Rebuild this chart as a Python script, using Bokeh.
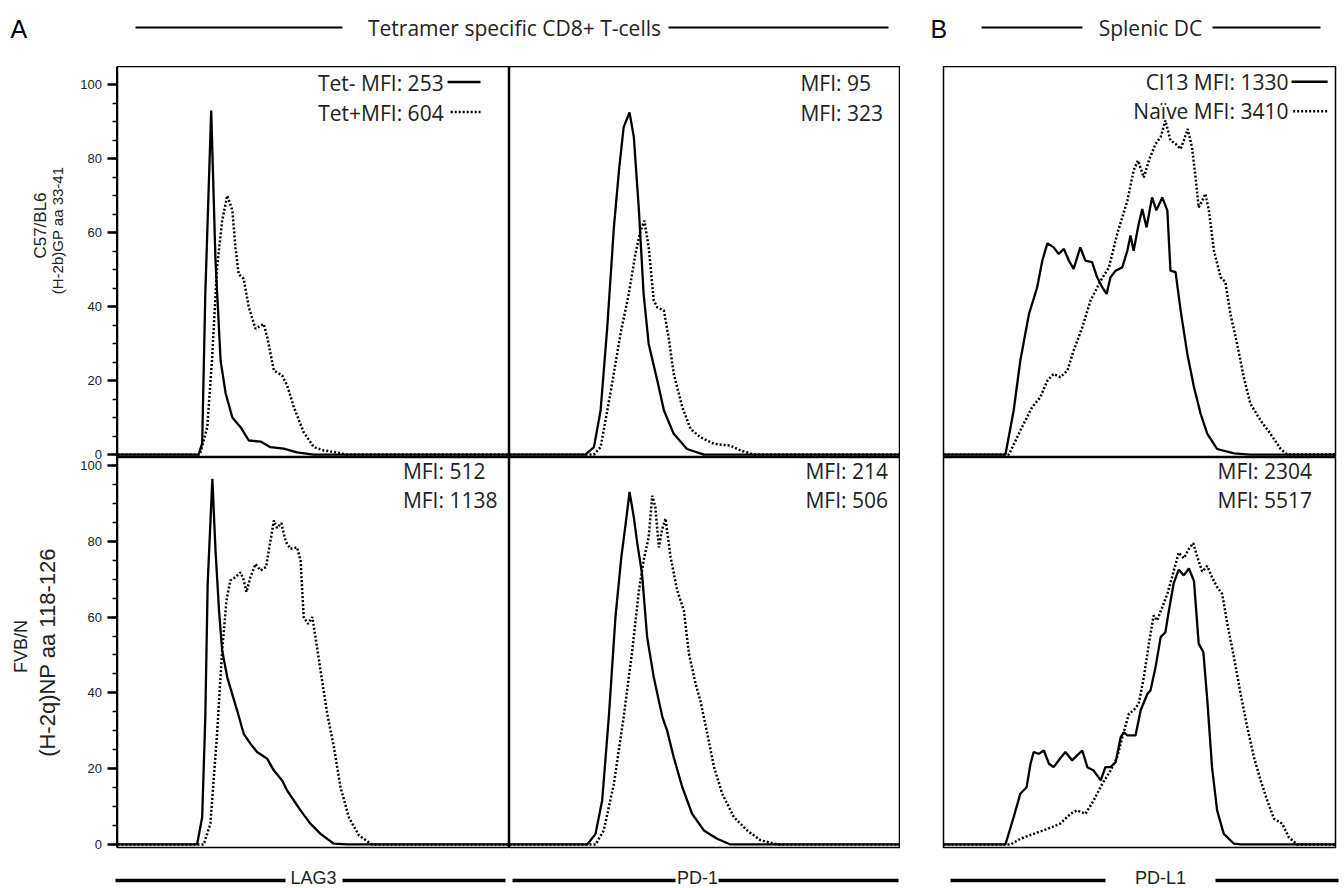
from bokeh.plotting import figure
from bokeh.layouts import row, column
from bokeh.models import Range1d, FixedTicker, LinearAxis
from bokeh.core.properties import value
from bokeh.embed import file_html
from bokeh.resources import INLINE
import numpy as np

# ---------------- data (x: channel position 0-100 % of axis, y: % of max) ----------------
# Tetramer specific CD8+ T-cells, C57/BL6, LAG3
lag3_b6_neg_x = [0, 20.7, 21.6, 22.4, 23.9, 25.0, 26.3, 27.6, 29.3, 31.4, 33.5, 36.5, 39.0, 42.4, 45.8, 50.0, 100]
lag3_b6_neg_y = [0, 0, 3.0, 43.5, 93, 52.4, 25.4, 16.5, 10, 7.4, 3.8, 3.5, 2, 1.6, 0.6, 0, 0]
lag3_b6_pos_x = [0, 21.0, 22.9, 24.1, 25.4, 26.7, 28.0, 29.3, 30.1, 30.9, 32.2, 33.5, 35.2, 37.3, 38.2, 39.9,
                 42.0, 43.3, 45.0, 47.5, 50.1, 52.6, 56.0, 58.2, 100]
lag3_b6_pos_y = [0, 0, 7.4, 25.4, 50.6, 63.2, 70, 66, 56, 48.8, 47.5, 39.8, 34, 35.3, 31.7, 22.7,
                 21.4, 18.6, 12.8, 6, 2, 1.1, 0.6, 0, 0]
# C57/BL6, PD-1
pd1_b6_neg_x = [0, 19.4, 21.6, 23.3, 25.0, 26.7, 28.0, 29.2, 30.7, 31.8, 33.1, 34.3, 35.6, 37.8, 39.5, 42.0, 45.4, 49.7, 100]
pd1_b6_neg_y = [0, 0, 2, 11.9, 34.4, 61.4, 76.8, 88.5, 92.5, 85.8, 66, 43.4, 29.9, 20, 11.9, 5.6, 1.5, 0, 0]
pd1_b6_pos_x = [0, 21.6, 23.3, 25.8, 28.4, 30.5, 32.2, 33.5, 34.5, 35.6, 36.9, 37.8, 39.5, 40.7, 42.0, 44.2,
                46.3, 48.8, 52.3, 56.5, 59.1, 62.5, 100]
pd1_b6_pos_y = [0, 0, 2, 16.5, 32.7, 43.4, 54.2, 60.5, 63.2, 56, 41.6, 39.8, 38.9, 31.7, 21.8, 12.8,
                6.9, 4.7, 2.9, 2.4, 1.1, 0, 0]
# Splenic DC, C57/BL6, PD-L1 (Cl13 solid, Naive dotted)
pdl1_b6_cl13_x = [0, 15.8, 17.9, 19.6, 21.8, 23.9, 25.2, 26.5, 28.1, 29.4, 30.7, 32.0, 33.2, 34.9, 36.2, 37.9,
                  39.2, 40.5, 41.6, 42.6, 43.9, 45.6, 46.9, 47.7, 48.5, 49.8, 50.7, 51.8, 53.2, 54.3, 55.8,
                  57.1, 57.9, 59.2, 60.5, 62.2, 63.9, 65.6, 67.3, 69.8, 74.1, 78.3, 100]
pdl1_b6_cl13_y = [0, 0, 11.9, 25.4, 38, 45.2, 52.4, 57.1, 56, 54.2, 55.6, 52.4, 50.2, 56, 52.4, 52,
                  47.9, 45.2, 43.4, 47.9, 49.7, 50.6, 55.1, 59.2, 55.1, 62.3, 66.4, 61.4, 69.5, 66, 69.5,
                  66, 49.7, 49.3, 38.9, 27.2, 18.2, 11, 5.6, 1.5, 0.3, 0, 0]
pdl1_b6_naive_x = [0, 16.7, 19.6, 22.6, 24.7, 26.5, 28.1, 29.8, 31.6, 33.2, 35.4, 37.5, 40.1, 42.2, 44.3, 46.9,
                   48.5, 49.6, 51.1, 52.4, 54.1, 55.4, 56.6, 57.9, 59.2, 60.5, 61.3, 62.3, 63.4, 64.3, 65.1,
                   66.0, 66.8, 67.7, 69.0, 70.7, 71.9, 73.2, 74.9, 76.6, 78.3, 80.9, 83.4, 86.0, 87.7, 100]
pdl1_b6_naive_y = [0, 0, 6.5, 12.8, 15.5, 20, 21.8, 20.9, 22.7, 28.1, 34.4, 41.6, 47, 50.6, 59.6, 68.6,
                   76.8, 79.5, 74.9, 79.5, 84, 85.8, 90.3, 84.9, 84, 82.6, 84.9, 88, 83, 74.9, 66.8,
                   68.6, 70.5, 66, 55.1, 47.9, 46.6, 38, 29.9, 20.9, 13.7, 9.2, 5.6, 1.5, 0, 0]
# FVB/N, LAG3
lag3_fvb_neg_x = [0, 20.3, 21.6, 22.4, 23.0, 24.2, 25.0, 25.9, 26.7, 28.0, 30.5, 32.2, 33.9, 35.6, 38.2, 39.9,
                  42.0, 43.3, 45.0, 46.7, 49.2, 51.8, 55.2, 58.6, 100]
lag3_fvb_neg_y = [0, 0, 7.2, 33.6, 68.7, 96.5, 77.6, 61.7, 51.2, 44.1, 35.4, 29.2, 26.6, 24.4, 22.6, 19.5,
                  16.9, 14.2, 11.6, 9, 5.5, 2.8, 0.2, 0, 0]
lag3_fvb_pos_x = [0, 22.0, 23.7, 25.4, 26.7, 27.8, 28.8, 30.1, 31.4, 32.1, 32.9, 33.9, 35.2, 36.5, 37.9, 38.6,
                  39.9, 40.7, 41.8, 42.9, 44.1, 45.8, 46.7, 47.5, 48.6, 49.7, 50.5, 51.8, 53.5, 55.2, 56.9,
                  59.0, 61.6, 64.9, 100]
lag3_fvb_pos_y = [0, 0, 5.5, 29.2, 51.2, 64.4, 69.7, 70.5, 71.8, 70.1, 66.6, 70.5, 74, 72.3, 73.2, 77.6,
                  85.5, 83.5, 84.8, 80, 78, 78.4, 74.9, 60, 58.2, 60, 54.7, 45.9, 34.5, 25.7, 15.1,
                  7.2, 2.4, 0, 0]
# FVB/N, PD-1
pd1_fvb_neg_x = [0, 19.9, 22.0, 23.7, 25.4, 27.1, 28.6, 29.7, 30.7, 31.8, 32.7, 33.9, 35.2, 36.9, 39.1, 40.3,
                 42.0, 44.2, 46.7, 49.7, 53.1, 56.5, 100]
pd1_fvb_neg_y = [0, 0, 2.8, 11.6, 33.6, 60, 75.8, 84.5, 93, 86.3, 79.3, 71.4, 54.7, 44.1, 33.6, 30.1,
                 23, 15.1, 8.1, 3.7, 1.5, 0, 0]
pd1_fvb_pos_x = [0, 22.0, 24.1, 26.7, 29.2, 31.4, 33.1, 34.3, 35.6, 36.5, 37.3, 38.2, 39.0, 39.9, 41.2, 42.9,
                 44.6, 45.9, 47.6, 48.8, 50.6, 52.3, 54.4, 57.4, 60.8, 64.2, 68.5, 100]
pd1_fvb_pos_y = [0, 0, 3.7, 16, 33.6, 51.2, 67, 74.9, 81.1, 92, 89, 78.4, 83, 86, 75.8, 67,
                 61.7, 50.3, 42.4, 38, 29.2, 20.4, 13.4, 7.2, 3.7, 1.1, 0, 0]
# FVB/N, PD-L1
pdl1_fvb_cl13_x = [0, 15.8, 17.9, 19.6, 21.2, 22.2, 23.0, 24.3, 25.6, 26.9, 28.1, 29.7, 31.1, 32.8, 34.1, 35.4,
                   36.7, 38.3, 40.1, 41.3, 42.6, 43.9, 45.2, 46.0, 46.9, 49.0, 50.3, 52.0, 52.8, 54.1, 55.4,
                   56.6, 57.5, 58.7, 60.0, 61.3, 62.6, 63.9, 65.1, 66.3, 67.3, 68.5, 69.8, 71.5, 74.1, 75.8, 100]
pdl1_fvb_cl13_y = [0, 0, 7.2, 13.4, 15.1, 21.3, 24.4, 23.9, 24.8, 21.3, 20.4, 22.6, 24.4, 22.2, 23.5, 24.8,
                   20.4, 19.5, 16.9, 20.4, 20.4, 21.7, 28.3, 29.6, 28.8, 28.8, 35.4, 39.7, 40.6, 46.8, 54.7,
                   56, 61.7, 68.8, 72.5, 71, 72.8, 69.5, 53, 50.7, 38, 20.4, 9, 2.8, 0.2, 0, 0]
pdl1_fvb_naive_x = [0, 17.1, 19.6, 23.0, 26.5, 29.8, 32.4, 34.1, 36.2, 38.3, 40.5, 42.6, 44.3, 45.6, 47.3, 48.5,
                    49.8, 51.1, 52.4, 53.6, 54.5, 55.8, 57.1, 58.3, 60.0, 61.3, 62.6, 63.7, 64.7, 66.0, 67.3,
                    68.5, 69.8, 71.1, 72.4, 74.1, 75.8, 77.5, 79.2, 80.9, 82.6, 84.3, 86.4, 88.1, 90.2, 100]
pdl1_fvb_naive_y = [0, 0, 1.5, 2.8, 4.1, 5.5, 8.1, 9, 8.1, 11.6, 16, 19.5, 23, 28.3, 34.5, 35.4,
                    37.1, 44.1, 53, 60.4, 59.1, 62.6, 66.1, 70.5, 77, 75.5, 78, 79.5, 76, 72, 73.5,
                    70.5, 67.9, 66.1, 58.2, 49.4, 39.7, 30.9, 23, 16.9, 11.6, 6.8, 5.5, 1.9, 0, 0]

y_ticks = [0, 20, 40, 60, 80, 100]
y_minor_ticks = list(range(0, 101, 5))

legend_top_left = ["Tet- MFI: 253", "Tet+MFI: 604"]
legend_top_mid = ["MFI: 95", "MFI: 323"]
legend_top_right = ["Cl13 MFI: 1330", "Naïve MFI: 3410"]
legend_bot_left = ["MFI: 512", "MFI: 1138"]
legend_bot_mid = ["MFI: 214", "MFI: 506"]
legend_bot_right = ["MFI: 2304", "MFI: 5517"]

# ---------------- styling / layout ----------------
TXT = "#222222"
MFI_FONT = value("Open Sans")
MFI_SIZE = "21px"
DOT = "2 2"
TOP_YR = (-0.8, 104.9)
BOT_YR = (-0.8, 102.1)
HDR_H = 66
TOP_H = 391
BOT_H = 390
BOT_PAD = 8
FTR_H = 33
LAB_W = 117


def strip(width, height, y0=0):
    f = figure(width=width, height=height, x_range=Range1d(0, width), y_range=Range1d(y0 + height, y0),
               output_backend="svg", toolbar_location=None, x_axis_location=None, y_axis_location=None,
               min_border=0, outline_line_color=None, background_fill_color="white",
               border_fill_color="white")
    for g in f.grid:
        g.visible = False
    return f


def panel(width, height, yr, left=0, right=0, bottom=0):
    p = figure(width=width, height=height, x_range=Range1d(0, 100), y_range=Range1d(*yr),
               output_backend="svg", toolbar_location=None, x_axis_location=None, y_axis_location=None,
               min_border_left=left, min_border_right=right, min_border_top=0, min_border_bottom=bottom,
               outline_line_color="black", outline_line_width=1.5,
               background_fill_color="white", border_fill_color="white")
    for g in p.grid:
        g.visible = False
    return p


def curves(p, sx, sy, dx, dy):
    p.line(dx, dy, line_color="black", line_width=2.5, line_dash=DOT)
    p.line(sx, sy, line_color="black", line_width=2.3)


def sample(p, x0, x1, y, dotted):
    if dotted:
        p.line([x0, x1], [y, y], line_color="black", line_width=2.5, line_dash=DOT)
    else:
        p.line([x0, x1], [y, y], line_color="black", line_width=2.5)


# top row
p1 = panel(392, TOP_H, TOP_YR)
curves(p1, lag3_b6_neg_x, lag3_b6_neg_y, lag3_b6_pos_x, lag3_b6_pos_y)
p1.text(x=[83.2, 83.2], y=[100.5, 92.4], text=legend_top_left, text_font=MFI_FONT, text_font_size=MFI_SIZE,
        text_align="right", text_baseline="middle", text_color=TXT)
sample(p1, 84.2, 92.6, 100.7, False)
sample(p1, 85.0, 92.6, 92.6, True)

p2 = panel(391, TOP_H, TOP_YR)
curves(p2, pd1_b6_neg_x, pd1_b6_neg_y, pd1_b6_pos_x, pd1_b6_pos_y)
p2.text(x=[74.4, 74.4], y=[100.5, 92.4], text=legend_top_mid, text_font=MFI_FONT, text_font_size=MFI_SIZE,
        text_align="left", text_baseline="middle", text_color=TXT)

p3 = panel(440, TOP_H, TOP_YR, left=43, right=5)
curves(p3, pdl1_b6_cl13_x, pdl1_b6_cl13_y, pdl1_b6_naive_x, pdl1_b6_naive_y)
p3.text(x=[88.0, 88.0], y=[100.8, 92.8], text=legend_top_right, text_font=MFI_FONT, text_font_size=MFI_SIZE,
        text_align="right", text_baseline="middle", text_color=TXT)
sample(p3, 88.8, 98.0, 100.8, False)
sample(p3, 89.2, 98.2, 92.8, True)

# bottom row
p4 = panel(392, BOT_H + BOT_PAD, BOT_YR, bottom=BOT_PAD)
curves(p4, lag3_fvb_neg_x, lag3_fvb_neg_y, lag3_fvb_pos_x, lag3_fvb_pos_y)
p4.text(x=[72.8, 72.8], y=[98.5, 90.8], text=legend_bot_left, text_font=MFI_FONT, text_font_size=MFI_SIZE,
        text_align="left", text_baseline="middle", text_color=TXT)

p5 = panel(391, BOT_H + BOT_PAD, BOT_YR, bottom=BOT_PAD)
curves(p5, pd1_fvb_neg_x, pd1_fvb_neg_y, pd1_fvb_pos_x, pd1_fvb_pos_y)
p5.text(x=[75.7, 75.7], y=[98.5, 90.8], text=legend_bot_mid, text_font=MFI_FONT, text_font_size=MFI_SIZE,
        text_align="left", text_baseline="middle", text_color=TXT)

p6 = panel(440, BOT_H + BOT_PAD, BOT_YR, left=43, right=5, bottom=BOT_PAD)
curves(p6, pdl1_fvb_cl13_x, pdl1_fvb_cl13_y, pdl1_fvb_naive_x, pdl1_fvb_naive_y)
p6.text(x=[69.9, 69.9], y=[98.5, 91.0], text=legend_bot_right, text_font=MFI_FONT, text_font_size=MFI_SIZE,
        text_align="left", text_baseline="middle", text_color=TXT)

# left strip: row labels + the two y axes of the left column (same scales as panels p1 / p4)
LAB_H = TOP_H + BOT_H + BOT_PAD
lab = strip(LAB_W, LAB_H, y0=HDR_H)
top_ppu = TOP_H / (TOP_YR[1] - TOP_YR[0])
bot_ppu = BOT_H / (BOT_YR[1] - BOT_YR[0])
lab.extra_y_ranges = {
    "top": Range1d(TOP_YR[1] - LAB_H / top_ppu, TOP_YR[1]),
    "bot": Range1d(BOT_YR[1] - (LAB_H - TOP_H) / bot_ppu, BOT_YR[1] + TOP_H / bot_ppu),
}
for name in ("top", "bot"):
    ax = LinearAxis(y_range_name=name, fixed_location=LAB_W - 0.5,
                    ticker=FixedTicker(ticks=y_ticks, minor_ticks=y_minor_ticks))
    ax.bounds = (0, 100) if name == "bot" else (-0.8, 104.9)
    ax.axis_line_width = 2
    ax.major_tick_line_width = 2.5
    ax.major_tick_out = 10
    ax.major_tick_in = 0
    ax.minor_tick_out = 5
    ax.minor_tick_in = 0
    ax.minor_tick_line_width = 1.5
    ax.major_label_text_font = "Liberation Sans"
    ax.major_label_text_font_size = "13px"
    ax.major_label_text_color = TXT
    ax.major_label_standoff = 5
    lab.add_layout(ax, "left")
lab.segment(x0=[LAB_W - 0.5], y0=[HDR_H], x1=[LAB_W - 0.5], y1=[HDR_H + TOP_H + BOT_H],
            line_color="black", line_width=2)

lab.text(x=[40, 57], y=[225, 230], text=["C57/BL6", "(H-2b)GP aa 33-41"], angle=np.pi / 2,
         text_font=value("Liberation Sans"), text_font_size=["17px", "15px"],
         text_align="center", text_baseline="middle", text_color=TXT)
lab.text(x=[20, 47], y=[646, 652], text=["FVB/N", "(H-2q)NP aa 118-126"], angle=np.pi / 2,
         text_font=value("Liberation Sans"), text_font_size=["18px", "22px"],
         text_align="center", text_baseline="middle", text_color=TXT)

# header
hdr = strip(1340, HDR_H)
hdr.text(x=[10, 930], y=[28, 28], text=["A", "B"], text_font=value("Liberation Sans"), text_font_size="25px",
         text_align="left", text_baseline="middle", text_color="black")
hdr.text(x=[514, 1150], y=[27, 27], text=["Tetramer specific CD8+ T-cells", "Splenic DC"],
         text_font=value("Open Sans"), text_font_size="21px", text_align="center", text_baseline="middle",
         text_color=TXT)
hdr.segment(x0=[135, 668, 981, 1212], y0=[27] * 4, x1=[342, 888, 1082, 1320], y1=[27] * 4,
            line_color="black", line_width=2)

# footer
ftr = strip(1340, FTR_H, y0=HDR_H + LAB_H)
ftr.text(x=[313, 697, 1160], y=[877, 877, 877], text=["LAG3", "PD-1", "PD-L1"],
         text_font=value("Liberation Sans"), text_font_size="18px", text_align="center",
         text_baseline="middle", text_color=TXT)
ftr.segment(x0=[115, 342, 512, 718, 950, 1215], y0=[880] * 6, x1=[285, 505, 675, 898, 1105, 1338], y1=[880] * 6,
            line_color="black", line_width=3.5)

layout = column(hdr,
                row(lab, column(p1, p4, spacing=0), column(p2, p5, spacing=0), column(p3, p6, spacing=0),
                    spacing=0),
                ftr, spacing=0)

open("out.html", "w").write(file_html(layout, INLINE))
